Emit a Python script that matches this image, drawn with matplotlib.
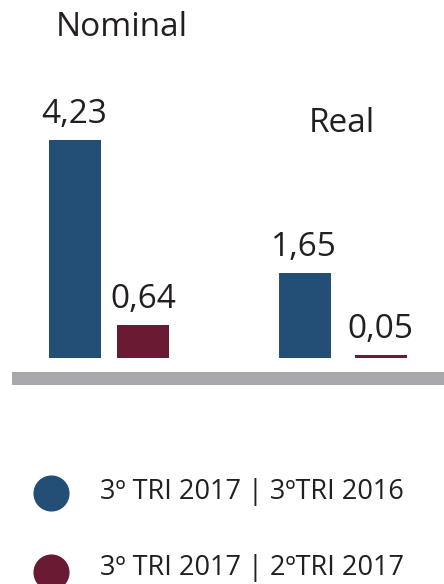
import matplotlib
matplotlib.use("Agg")
import matplotlib.pyplot as plt

# ---- data ----
groups = ["Nominal", "Real"]
series_names = ["3º TRI 2017 | 3ºTRI 2016", "3º TRI 2017 | 2ºTRI 2017"]
series1 = [4.23, 1.65]
series2 = [0.64, 0.05]
value_labels1 = ["4,23", "1,65"]
value_labels2 = ["0,64", "0,05"]

# ---- style ----
c_blue = "#234f77"
c_red = "#6b1a33"
c_gray = "#a7a8ab"
c_text = "#231f20"
plt.rcParams['font.family'] = ['Open Sans', 'DejaVu Sans']

W, H = 444, 584
fig = plt.figure(figsize=(W / 100, H / 100), dpi=100)

# bar axes: x in pixel-like positions, y in value units
base_px = 358.0
ppu = 51.5  # pixels per unit
ax = fig.add_axes([0, 0, 1, 1])
ax.set_xlim(0, W)
ax.set_ylim((base_px - H) / ppu, base_px / ppu)
ax.axis("off")

x1 = [75, 305]
x2 = [143, 380.5]
bw = 52
ax.bar(x1, series1, width=bw, color=c_blue)
ax.bar(x2, series2, width=bw, color=c_red)

# gray baseline band
ax.axhspan((base_px - 385) / ppu, (base_px - 372) / ppu, xmin=12 / W, xmax=1, color=c_gray, lw=0)

# value labels (centre ~25 px above bar top)
for x, v, t in zip(x1, series1, value_labels1):
    ax.annotate(t, (x - 1, v), xytext=(0, 18.5), textcoords="offset points",
                ha="center", va="center", fontsize=24, color=c_text)
for x, v, t in zip(x2, series2, value_labels2):
    ax.annotate(t, (x, v), xytext=(0, 18.5), textcoords="offset points",
                ha="center", va="center", fontsize=24, color=c_text)

# group titles (pixel overlay)
ov = fig.add_axes([0, 0, 1, 1])
ov.set_xlim(0, W)
ov.set_ylim(H, 0)
ov.axis("off")
ov.patch.set_alpha(0)
ov.text(122, 28, groups[0], ha="center", va="center", fontsize=24, color=c_text)
ov.text(342, 123, groups[1], ha="center", va="center", fontsize=24, color=c_text)

# legend
for yy, ty, col, name in zip([493, 572], [492, 568], [c_blue, c_red], series_names):
    ov.scatter([51], [yy], s=26 ** 2, color=col, lw=0)
    ov.text(100, ty, name, ha="left", va="center", fontsize=19.5, color=c_text)

fig.savefig("out.png", dpi=100)
